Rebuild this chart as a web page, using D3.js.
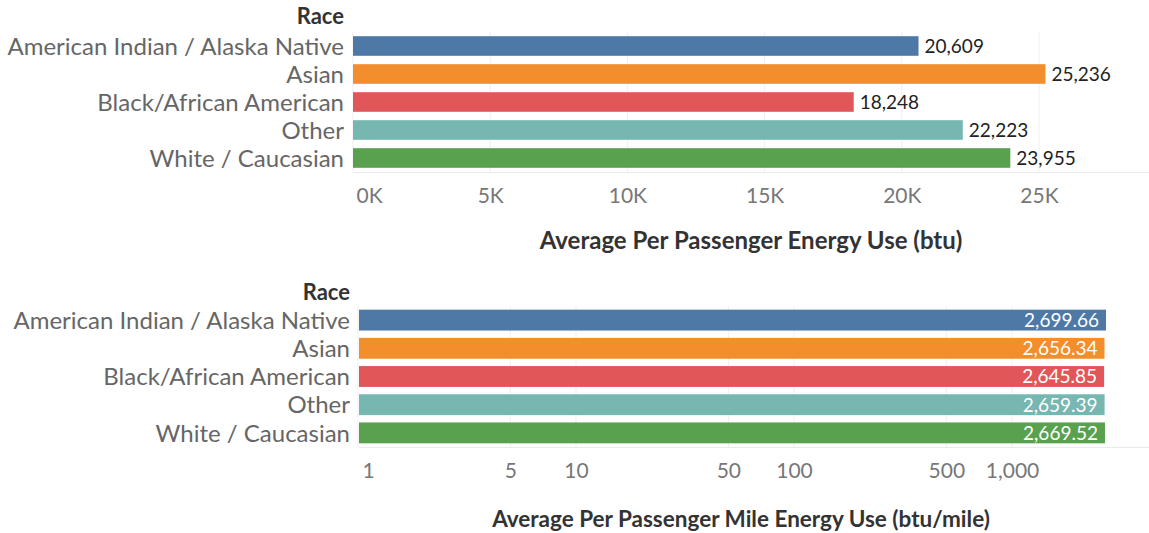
<!DOCTYPE html>
<html><head><meta charset="utf-8">
<script src="https://cdn.jsdelivr.net/npm/d3@7"></script>
<style>
body{margin:0;background:#fff;}
text{font-family:Lato,"Open Sans",sans-serif;}
</style></head>
<body><svg id="c" width="1149" height="533"></svg>
<script>
const categories = ["American Indian / Alaska Native","Asian","Black/African American","Other","White / Caucasian"];
const colors = ["#4e79a7","#f28e2b","#e15759","#76b7b2","#59a14f"];
const energyUse = [20609,25236,18248,22223,23955];
const mileEnergyUse = [2699.66,2656.34,2645.85,2659.39,2669.52];
const topTicks = [0,5000,10000,15000,20000,25000];
const topTickLabels = ["0K","5K","10K","15K","20K","25K"];
const bottomTicks = [1,5,10,50,100,500,1000];
const bottomTickLabels = ["1","5","10","50","100","500","1,000"];
const topTitle = "Average Per Passenger Energy Use (btu)";
const bottomTitle = "Average Per Passenger Mile Energy Use (btu/mile)";
const headerLabel = "Race";

const svg = d3.select("#c");

function panel(opts){
  const g = svg.append("g");
  const y = d3.scaleBand().domain(categories).range([opts.top, opts.top + opts.step*categories.length]).paddingInner(opts.pad).paddingOuter(opts.pad/2);
  const x = opts.x;
  g.selectAll("line.grid").data(opts.ticks).join("line")
    .attr("x1",d=>x(d)).attr("x2",d=>x(d))
    .attr("y1",opts.top).attr("y2",opts.top+opts.step*categories.length)
    .attr("stroke","#efefef").attr("stroke-width",1);
  g.append("line").attr("x1",opts.x0).attr("x2",1149)
    .attr("y1",opts.top+opts.step*categories.length+0.5).attr("y2",opts.top+opts.step*categories.length+0.5)
    .attr("stroke","#eaeaea");
  g.selectAll("rect").data(opts.values).join("rect")
    .attr("x",opts.x0).attr("y",(d,i)=>y(categories[i]))
    .attr("width",d=>x(d)-opts.x0).attr("height",y.bandwidth())
    .attr("fill",(d,i)=>colors[i]);
  g.selectAll("text.cat").data(categories).join("text")
    .attr("x",opts.labelX).attr("y",d=>y(d)+y.bandwidth()/2)
    .attr("dy","0.36em").attr("text-anchor","end")
    .attr("font-size",24).attr("fill","#666").text(d=>d);
  g.append("text").attr("x",opts.labelX).attr("y",opts.headerY)
    .attr("text-anchor","end").attr("font-size",22).attr("font-weight","bold")
    .attr("fill","#333").text(headerLabel);
  g.selectAll("text.val").data(opts.values).join("text")
    .attr("x",d=>opts.inside ? x(d)-7 : x(d)+6)
    .attr("y",(d,i)=>y(categories[i])+y.bandwidth()/2)
    .attr("dy","0.36em").attr("text-anchor",opts.inside?"end":"start")
    .attr("font-size",19).attr("fill",opts.inside?"#fff":"#222")
    .text(opts.fmt);
  const ax = d3.axisBottom(x).tickValues(opts.ticks).tickSize(0).tickFormat((d,i)=>opts.tickLabels[i]);
  const axg = g.append("g").attr("transform",`translate(0,${opts.axisY})`).call(ax);
  axg.select(".domain").remove();
  axg.selectAll("text").attr("font-size",21).attr("fill","#777").attr("font-family","Lato,'Open Sans',sans-serif")
    .attr("text-anchor",(d,i)=>i===0?"start":"middle")
    .attr("dx",(d,i)=>i===0?opts.firstDx:0);
  g.append("text").attr("x",opts.titleX).attr("y",opts.titleY).attr("text-anchor","middle")
    .attr("font-size",opts.titleSize).attr("font-weight","bold").attr("fill","#333").text(opts.title);
}

const xTop = d3.scaleLinear().domain([0,25000]).range([353,1039]);
panel({x:xTop,x0:353,top:32,step:28,pad:0.3,values:energyUse,ticks:topTicks,tickLabels:topTickLabels,
  labelX:344,headerY:24,inside:false,fmt:d3.format(","),axisY:185,firstDx:3,title:topTitle,titleX:751,titleY:249,titleSize:24});

const xBot = d3.scaleLog().domain([1,1000]).range([358,1012]);
panel({x:xBot,x0:359,top:306,step:28.2,pad:0.26,values:mileEnergyUse,ticks:bottomTicks,tickLabels:bottomTickLabels,
  labelX:350,headerY:300,inside:true,fmt:d3.format(",.2f"),axisY:460,firstDx:4,title:bottomTitle,titleX:741,titleY:527,titleSize:22.5});
</script></body></html>
